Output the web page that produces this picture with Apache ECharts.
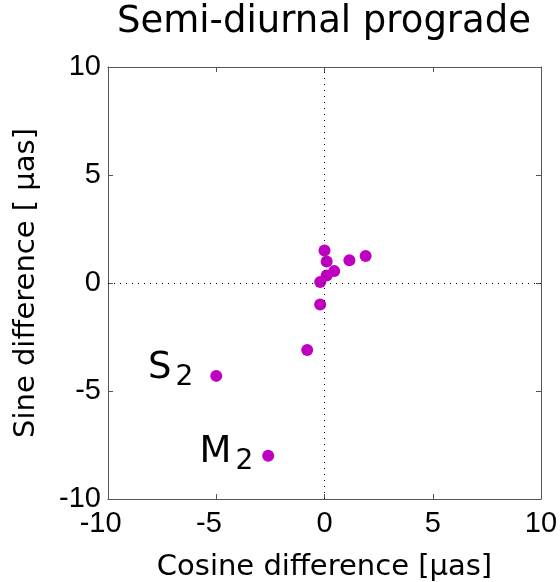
<!DOCTYPE html>
<html><head><meta charset="utf-8">
<script src="https://cdn.jsdelivr.net/npm/echarts@6/dist/echarts.min.js"></script>
<style>html,body{margin:0;padding:0;background:#fff}#c{width:560px;height:582px}</style>
</head><body><div id="c"></div>
<script>
// Data
const cosineDiff = [0.0, 0.1, 0.45, 0.1, -0.2, 1.15, 1.9, -0.2, -0.8, -5.0, -2.6];
const sineDiff   = [1.5, 1.0, 0.55, 0.35, 0.05, 1.05, 1.25, -1.0, -3.1, -4.3, -8.0];
const pointNames = ['', '', '', '', '', '', '', '', '', 'S2', 'M2'];
const tickValues = [-10, -5, 0, 5, 10];
const titleText = 'Semi-diurnal prograde';
const xName = 'Cosine difference [\u03bcas]';
const yName = 'Sine difference [ \u03bcas]';

const NUMFONT = '"Liberation Sans", Arial, Helvetica, sans-serif';
const TXTFONT = '"DejaVu Sans", sans-serif';
const labelStyleByName = {
  S2: { distance: 17, offset: [0, -7] },
  M2: { distance: 9, offset: [0, -3] }
};

const points = cosineDiff.map((x, i) => {
  const item = { value: [x, sineDiff[i]], name: pointNames[i] };
  if (pointNames[i]) {
    const st = labelStyleByName[pointNames[i]] || {};
    item.label = {
      show: true, position: 'left', color: '#000',
      distance: st.distance || 10, offset: st.offset || [0, 0],
      formatter: p => '{b|' + p.name.charAt(0) + '}{s|' + p.name.slice(1) + '}',
      rich: {
        b: { fontSize: 37, fontFamily: TXTFONT, color: '#000' },
        s: { fontSize: 28, fontFamily: TXTFONT, color: '#000', padding: [18, 0, 0, 4] }
      }
    };
  }
  return item;
});

const axisCommon = {
  type: 'value', min: tickValues[0], max: tickValues[tickValues.length - 1],
  interval: tickValues[1] - tickValues[0],
  splitLine: { show: false },
  axisLine: { show: true, onZero: false, lineStyle: { color: '#555', width: 1 } },
  axisTick: { show: true, inside: true, length: 5, lineStyle: { color: '#555' } }
};

const chart = echarts.init(document.getElementById('c'));
chart.setOption({
  animation: false,
  backgroundColor: '#fff',
  title: {
    text: titleText, left: 319, textAlign: 'center', top: -1,
    textStyle: { fontFamily: TXTFONT, fontSize: 37, fontWeight: 'normal', color: '#000' }
  },
  grid: { left: 108, right: 19, top: 67, bottom: 83, containLabel: false, outerBoundsMode: 'none' },
  xAxis: [
    Object.assign({}, axisCommon, {
      position: 'bottom',
      name: xName, nameLocation: 'middle', nameGap: 54,
      nameTextStyle: { fontFamily: TXTFONT, fontSize: 29, color: '#000' },
      axisLabel: { margin: 10, fontFamily: NUMFONT, fontSize: 29, color: '#000',
        formatter: v => v < 0 ? '{h|-}' + String(v).slice(1) + '{h2|-}' : String(v),
        rich: {
          h: { fontFamily: NUMFONT, fontSize: 29, color: '#000' },
          h2: { fontFamily: NUMFONT, fontSize: 29, color: 'rgba(0,0,0,0)', padding: [0, 5, 0, 0] }
        } }
    }),
    Object.assign({}, axisCommon, { position: 'top', axisLabel: { show: false } })
  ],
  yAxis: [
    Object.assign({}, axisCommon, {
      position: 'left',
      name: yName, nameLocation: 'middle', nameGap: 67, nameRotate: 90,
      nameTextStyle: { fontFamily: TXTFONT, fontSize: 29, color: '#000' },
      axisLabel: { margin: 7, fontFamily: NUMFONT, fontSize: 29, color: '#000' }
    }),
    Object.assign({}, axisCommon, { position: 'right', axisLabel: { show: false } })
  ],
  series: [{
    type: 'scatter',
    xAxisIndex: 0, yAxisIndex: 0,
    symbol: 'circle', symbolSize: 12,
    itemStyle: { color: '#c000c0', opacity: 1 },
    data: points,
    z: 3,
    markLine: {
      silent: true, symbol: 'none', label: { show: false },
      lineStyle: { color: '#000', type: [1, 5], width: 1, opacity: 1 },
      data: [{ xAxis: 0 }, { yAxis: 0 }]
    }
  }]
});
</script>
</body></html>
